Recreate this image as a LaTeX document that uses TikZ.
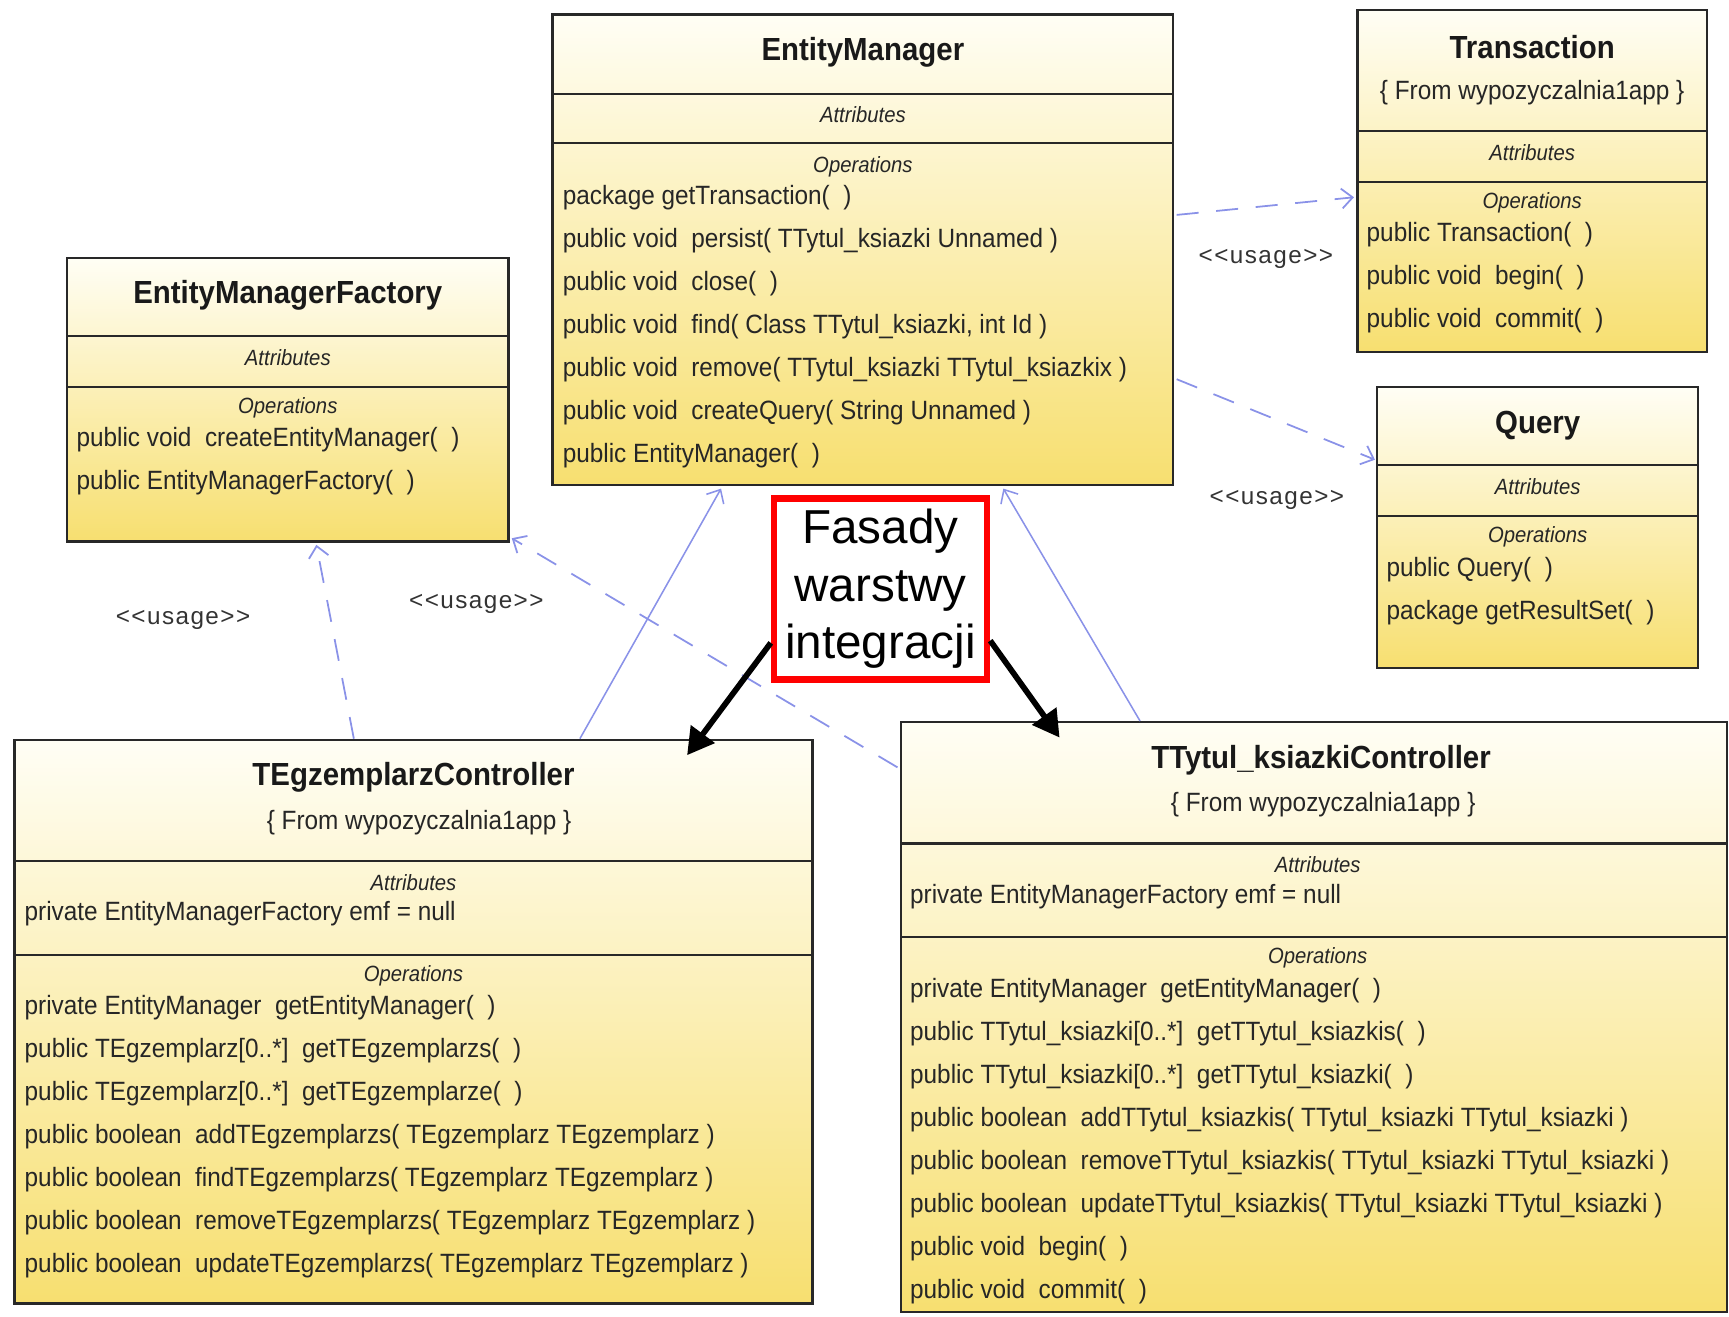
\documentclass[tikz,border=0pt]{standalone}
\usepackage{fontspec}
\setmainfont{Liberation Sans}
\newfontfamily\umlfont[FakeStretch=0.92]{Liberation Sans}
\newfontfamily\usagefont[LetterSpace=6.0]{Liberation Sans}
\usetikzlibrary{arrows.meta,calc,fit}

\definecolor{umltop}{RGB}{255,254,245}
\definecolor{umlmid}{RGB}{252,243,198}
\definecolor{umlbot}{RGB}{247,223,112}
\definecolor{usageblue}{RGB}{138,146,232}
\definecolor{linegray}{RGB}{40,40,40}

\begin{document}
\begin{tikzpicture}[x=0.5pt,y=0.5pt,
    classbox/.style={draw=linegray, line width=1.1pt, top color=umltop,
      middle color=umlmid, bottom color=umlbot, inner sep=0pt},
    sepline/.style={draw=linegray, line width=1pt},
    classname/.style={font=\umlfont\bfseries\fontsize{14.5}{17}\selectfont, text=black!90},
    fromtext/.style={font=\umlfont\fontsize{12}{14}\selectfont, text=black!85},
    section/.style={font=\umlfont\itshape\fontsize{10}{12}\selectfont, text=black!85},
    member/.style={font=\umlfont\fontsize{12}{14}\selectfont, text=black!85,
      anchor=west, inner sep=0pt},
    usage/.style={draw=usageblue, line width=0.8pt, dash pattern=on 10pt off 8pt,
      -{Straight Barb[length=5pt,width=9pt]}},
    realize/.style={draw=usageblue, line width=0.7pt,
      -{Straight Barb[length=5pt,width=9pt]}},
    usagelabel/.style={font=\usagefont\fontsize{11}{13}\selectfont, text=black!80},
    fasbox/.style={draw=red, line width=3pt, fill=white, align=center, inner sep=0pt,
      font=\fontsize{21.6}{26}\selectfont, minimum width=96.5pt, minimum height=82pt},
    hint/.style={line width=2.6pt, -{Triangle[length=12pt,width=13pt]}}]

  \useasboundingbox (0,0) rectangle (1568,-1194);

  % EntityManager
  \node[classbox, fit={(501,-13) (1064,-440)}] (em) {};
  \draw[sepline] (501,-85) -- (1064,-85);
  \draw[sepline] (501,-130) -- (1064,-130);
  \node[classname] (em-name) at (782.5,-47) {EntityManager};
  \node[section] (em-attr) at (782.5,-104) {Attributes};
  \node[section] (em-oper) at (782.5,-151) {Operations};
  \foreach \txt [count=\i from 0] in {{package getTransaction(\ \ )},
      {public void\ \ persist( TTytul\_ksiazki Unnamed )},
      {public void\ \ close(\ \ )},
      {public void\ \ find( Class TTytul\_ksiazki, int Id )},
      {public void\ \ remove( TTytul\_ksiazki TTytul\_ksiazkix )},
      {public void\ \ createQuery( String Unnamed )},
      {public EntityManager(\ \ )}}
    \node[member] (em-op\i) at (510,{-179-39*\i}) {\txt};

  % Transaction
  \node[classbox, fit={(1231,-9) (1548,-319)}] (tr) {};
  \draw[sepline] (1231,-119) -- (1548,-119);
  \draw[sepline] (1231,-165) -- (1548,-165);
  \node[classname] (tr-name) at (1389.5,-43) {Transaction};
  \node[fromtext] (tr-from) at (1389.5,-84) {\{ From wypozyczalnia1app \}};
  \node[section] (tr-attr) at (1389.5,-138) {Attributes};
  \node[section] (tr-oper) at (1389.5,-184) {Operations};
  \foreach \txt [count=\i from 0] in {{public Transaction(\ \ )},
      {public void\ \ begin(\ \ )}, {public void\ \ commit(\ \ )}}
    \node[member] (tr-op\i) at (1239,{-213-39*\i}) {\txt};

  % Query
  \node[classbox, fit={(1249,-351) (1540,-606)}] (qry) {};
  \draw[sepline] (1249,-422) -- (1540,-422);
  \draw[sepline] (1249,-468) -- (1540,-468);
  \node[classname] (qry-name) at (1394.5,-386) {Query};
  \node[section] (qry-attr) at (1394.5,-441) {Attributes};
  \node[section] (qry-oper) at (1394.5,-487) {Operations};
  \node[member] (qry-op0) at (1257,-517) {public Query(\ \ )};
  \node[member] (qry-op1) at (1257,-556) {package getResultSet(\ \ )};

  % EntityManagerFactory
  \node[classbox, fit={(61,-234) (461,-491)}] (emf) {};
  \draw[sepline] (61,-305) -- (461,-305);
  \draw[sepline] (61,-351) -- (461,-351);
  \node[classname] (emf-name) at (261,-268) {EntityManagerFactory};
  \node[section] (emf-attr) at (261,-324) {Attributes};
  \node[section] (emf-oper) at (261,-370) {Operations};
  \node[member] (emf-op0) at (69,-399) {public void\ \ createEntityManager(\ \ )};
  \node[member] (emf-op1) at (69,-438) {public EntityManagerFactory(\ \ )};

  % TEgzemplarzController
  \node[classbox, fit={(13,-671) (737,-1182)}] (tec) {};
  \draw[sepline] (13,-781) -- (737,-781);
  \draw[sepline] (13,-866) -- (737,-866);
  \node[classname] (tec-name) at (375,-705) {TEgzemplarzController};
  \node[fromtext] (tec-from) at (380,-746) {\{ From wypozyczalnia1app \}};
  \node[section] (tec-attr) at (375,-800) {Attributes};
  \node[member] (tec-at0) at (22,-829) {private EntityManagerFactory emf = null};
  \node[section] (tec-oper) at (375,-885) {Operations};
  \foreach \txt [count=\i from 0] in {{private EntityManager\ \ getEntityManager(\ \ )},
      {public TEgzemplarz[0..*]\ \ getTEgzemplarzs(\ \ )},
      {public TEgzemplarz[0..*]\ \ getTEgzemplarze(\ \ )},
      {public boolean\ \ addTEgzemplarzs( TEgzemplarz TEgzemplarz )},
      {public boolean\ \ findTEgzemplarzs( TEgzemplarz TEgzemplarz )},
      {public boolean\ \ removeTEgzemplarzs( TEgzemplarz TEgzemplarz )},
      {public boolean\ \ updateTEgzemplarzs( TEgzemplarz TEgzemplarz )}}
    \node[member] (tec-op\i) at (22,{-914-39*\i}) {\txt};

  % TTytul_ksiazkiController
  \node[classbox, fit={(817,-655) (1566,-1190)}] (ttc) {};
  \draw[sepline] (817,-765) -- (1566,-765);
  \draw[sepline] (817,-850) -- (1566,-850);
  \node[classname] (ttc-name) at (1198,-689) {TTytul\_ksiazkiController};
  \node[fromtext] (ttc-from) at (1200,-730) {\{ From wypozyczalnia1app \}};
  \node[section] (ttc-attr) at (1195,-784) {Attributes};
  \node[member] (ttc-at0) at (825,-813) {private EntityManagerFactory emf = null};
  \node[section] (ttc-oper) at (1195,-869) {Operations};
  \foreach \txt [count=\i from 0] in {{private EntityManager\ \ getEntityManager(\ \ )},
      {public TTytul\_ksiazki[0..*]\ \ getTTytul\_ksiazkis(\ \ )},
      {public TTytul\_ksiazki[0..*]\ \ getTTytul\_ksiazki(\ \ )},
      {public boolean\ \ addTTytul\_ksiazkis( TTytul\_ksiazki TTytul\_ksiazki )},
      {public boolean\ \ removeTTytul\_ksiazkis( TTytul\_ksiazki TTytul\_ksiazki )},
      {public boolean\ \ updateTTytul\_ksiazkis( TTytul\_ksiazki TTytul\_ksiazki )},
      {public void\ \ begin(\ \ )},
      {public void\ \ commit(\ \ )}}
    \node[member] (ttc-op\i) at (825,{-898-39*\i}) {\txt};

  % usage dependencies
  \draw[usage] ($(em.north east)+(2,-183)$) -- ($(tr.north west)+(-2,-171)$);
  \draw[usage] ($(em.north east)+(2,-332)$) -- ($(qry.north west)+(-1,-67)$);
  \draw[usage] ($(tec.north west)+(309,0)$) -- ($(emf.south west)+(227,-2)$);
  \draw[usage] ($(ttc.north west)+(-2,-42)$) -- ($(emf.south east)+(2,4)$);
  \node[usagelabel] (lbl-tr) at (1148,-235) {<<usage>>};
  \node[usagelabel] (lbl-qry) at (1158,-453) {<<usage>>};
  \node[usagelabel] (lbl-tec) at (166,-562) {<<usage>>};
  \node[usagelabel] (lbl-ttc) at (432,-548) {<<usage>>};

  % controllers use the EntityManager
  \draw[realize] ($(tec.north west)+(514,0)$) -- ($(em.south west)+(154,-2)$);
  \draw[realize] ($(ttc.north west)+(218,0)$) -- ($(em.south west)+(410,-2)$);

  % note
  \node[fasbox] (fas) at (798.5,-534) {\raisebox{-5pt}{Fasady}\\\raisebox{-5pt}{warstwy}\\\raisebox{-5pt}{integracji}};
  \draw[hint] ($(fas.south west)+(0,36)$) -- ($(tec.north east)+(-115,-15)$);
  \draw[hint] ($(fas.south east)+(0,38)$) -- ($(ttc.north west)+(145,-15)$);
\end{tikzpicture}
\end{document}
